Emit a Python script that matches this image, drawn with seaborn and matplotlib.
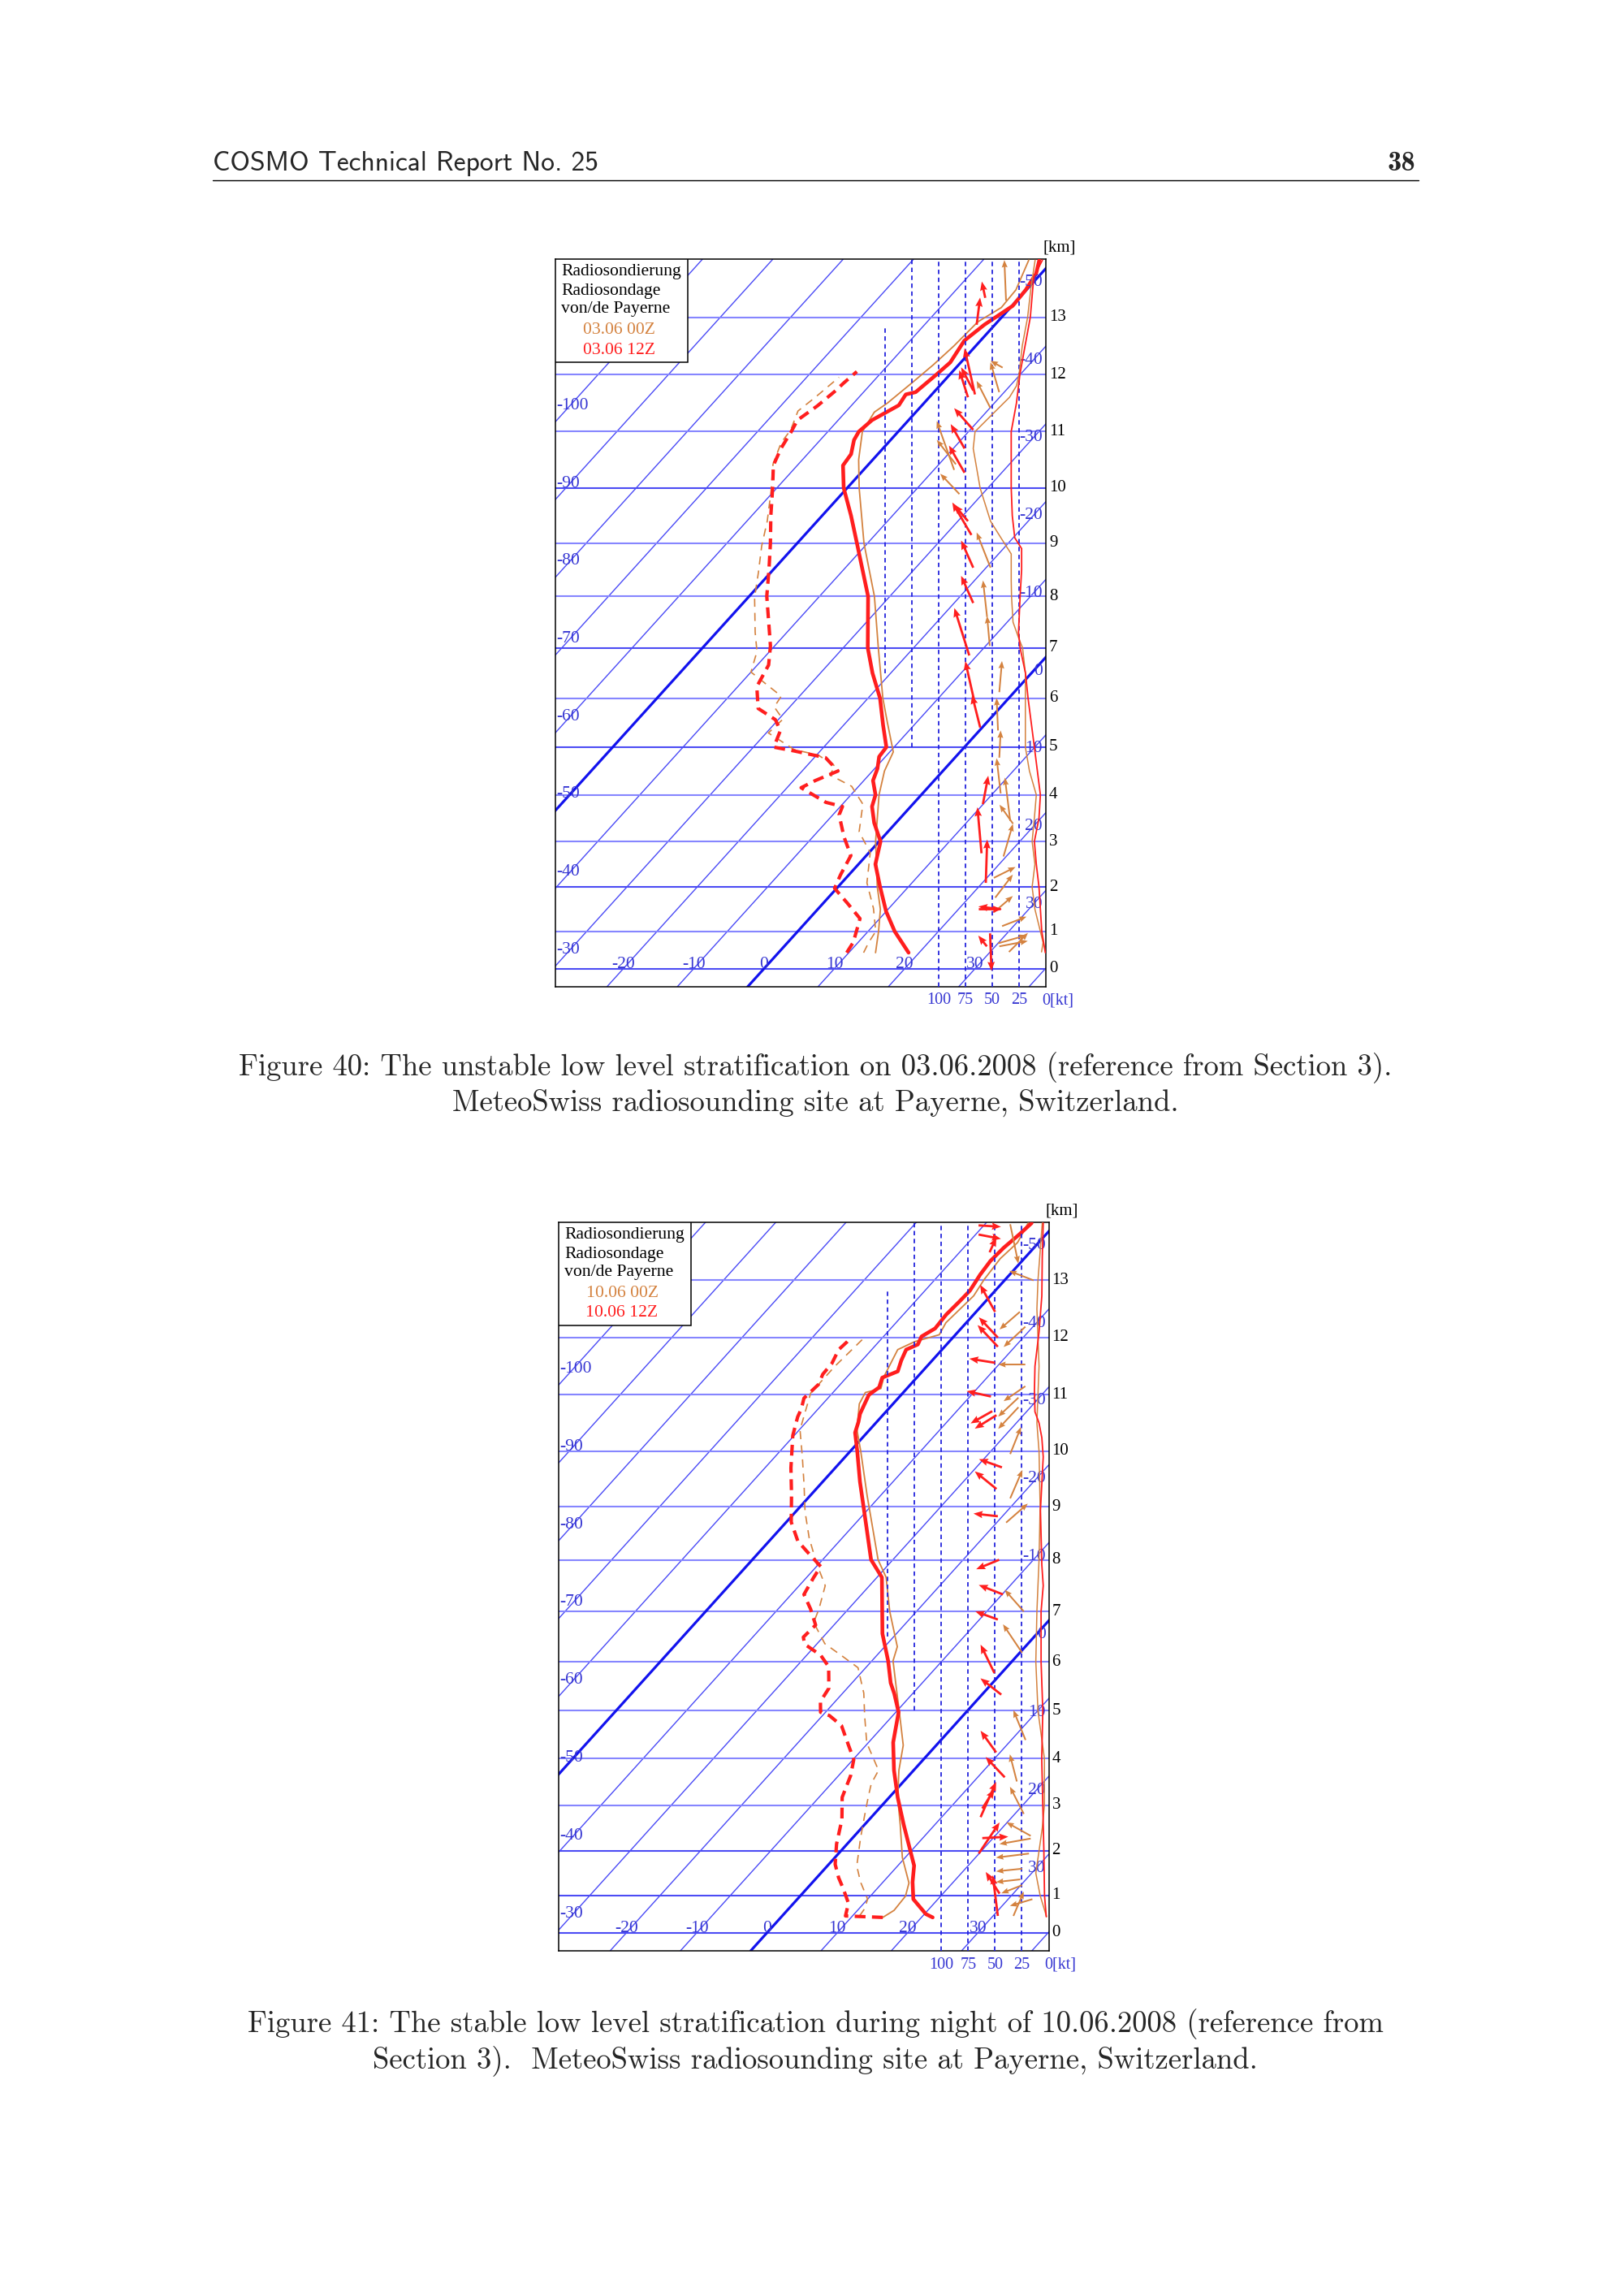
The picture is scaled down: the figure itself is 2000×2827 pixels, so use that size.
import numpy as np
import pandas as pd
import matplotlib
matplotlib.use("Agg")
import matplotlib.pyplot as plt
from matplotlib.patches import Rectangle
from matplotlib.lines import Line2D
import seaborn as sns

# ---------------------------------------------------------------- data
KM_LEVELS = [0, 1, 2, 3, 4, 5, 6, 7, 8, 9, 10, 11, 12, 13, 14]
KM_PRESSURE = [996.0, 898.8, 795.0, 701.1, 616.6, 540.5, 472.2, 411.1,
               356.5, 308.0, 264.4, 226.3, 193.3, 165.1, 141.0]
KM_LABELS = ["0", "1", "2", "3", "4", "5", "6", "7", "8", "9", "10", "11", "12", "13"]
P_BOTTOM, P_TOP = 1047.0, 140.7
T_AXIS_MIN, T_AXIS_MAX = -29.65, 40.07
SKEW = 46.62                      # degC per ln(p) unit

ISOTHERMS = list(range(-140, 60, 10))
THICK_ISOTHERMS = [-50, 0]
BOTTOM_T_LABELS = [-20, -10, 0, 10, 20, 30]
LEFT_T_LABELS = [-30, -40, -50, -60, -70, -80, -90, -100]
RIGHT_T_LABELS = [30, 20, 10, 0, -10, -20, -30, -40, -50]

WIND_KT_LINES = [100, 75, 50, 25]
WIND_KT_LABELS = ["100", "75", "50", "25"]
WIND_PARTIAL_KT = [150, 125]
WIND_PARTIAL_KM_LOW = [6.5, 5.0]
WIND_PARTIAL_KM_HIGH = [12.85, 14.0]

LEGEND_HEAD = ["Radiosondierung", "Radiosondage", "von/de Payerne"]
LEGEND_RUNS_1 = ["03.06 00Z", "03.06 12Z"]
LEGEND_RUNS_2 = ["10.06 00Z", "10.06 12Z"]

# ---- Figure 40 (03.06.2008) ----
F1_T12_KM = [0.43, 1.0, 1.45, 2.0, 2.5, 3.0, 3.4, 3.75, 4.0, 4.3, 4.55, 4.8, 5.0, 5.45, 6.0, 6.5, 7.0,
             8.0, 9.0, 9.5, 10.0, 10.4, 10.6, 10.85, 11.0, 11.2, 11.46, 11.65, 11.69, 12.0, 12.21,
             12.59, 12.87, 13.2, 13.48, 13.76, 14.0]
F1_T12_C = [18.5, 13.8, 10.0, 6.0, 2.4, 0.2, -3.1, -5.5, -6.5, -8.7, -9.6, -10.9, -11.1, -14.4, -18.3,
            -22.6, -26.5, -33.1, -41.5, -45.9, -50.5, -53.5, -53.8, -55.2, -55.6, -55.2, -53.3, -53.7,
            -52.6, -51.9, -51.5, -52.3, -51.5, -49.9, -50.1, -50.7, -52.0]
F1_T00_KM = [0.43, 1.0, 1.5, 2.0, 3.0, 4.0, 4.5, 4.9, 5.5, 6.0, 7.0, 8.0, 9.0, 10.0, 10.5, 11.0, 11.34,
             11.5, 11.86, 12.17, 12.5, 12.92, 13.17, 13.48, 14.0]
F1_T00_C = [13.8, 11.5, 8.9, 5.6, -0.5, -6.0, -8.3, -9.5, -14.1, -17.9, -25.0, -32.2, -40.5, -48.3,
            -52.0, -55.1, -55.9, -55.2, -54.3, -53.6, -53.1, -52.8, -51.3, -51.5, -53.5]
F1_TD12_KM = [0.43, 0.71, 1.29, 1.63, 1.97, 2.27, 2.69, 3.1, 3.57, 3.75, 3.84, 4.15, 4.3, 4.5, 4.78,
              4.92, 5.0, 5.34, 5.56, 5.79, 6.23, 6.66, 7.04, 8.0, 8.5, 9.0, 9.5, 10.0, 10.4, 10.7,
              11.0, 11.2, 11.45, 11.7, 11.85, 12.05]
F1_TD12_C = [9.7, 9.3, 7.2, 3.5, -0.3, -1.2, -2.2, -5.6, -9.1, -9.7, -12.6, -18.0, -16.9, -14.9, -18.4,
             -23.7, -27.1, -28.3, -30.4, -34.3, -37.3, -38.4, -40.6, -47.5, -50.6, -53.8, -57.3,
             -60.6, -63.4, -64.5, -65.2, -65.8, -64.8, -64.2, -64.0, -63.6]
F1_TD00_KM = [0.43, 0.71, 1.0, 1.52, 2.09, 2.75, 3.21, 3.8, 4.18, 4.42, 4.6, 4.83, 4.95, 5.29, 5.57,
              5.82, 6.04, 6.52, 6.93, 7.3, 7.98, 8.44, 8.95, 9.4, 9.94, 10.42, 10.8, 11.03, 11.36,
              11.6, 11.95]
F1_TD00_C = [12.1, 11.5, 11.1, 7.8, 3.6, 0.2, -4.1, -7.1, -11.0, -15.6, -15.9, -19.7, -23.9, -29.7,
             -29.4, -32.2, -32.6, -40.0, -41.8, -44.5, -49.1, -51.7, -54.7, -57.1, -60.4, -63.6,
             -65.2, -65.5, -66.9, -66.2, -65.4]
F1_SP12_KM = [0.43, 1.0, 1.5, 2.0, 2.5, 3.0, 3.5, 4.0, 5.0, 6.0, 6.5, 7.0, 7.3, 8.0, 8.5, 8.9, 9.1,
              9.5, 10.0, 11.0, 11.5, 12.0, 12.5, 13.0, 13.7, 14.0]
F1_SP12_KT = [0.5, 3.8, 5.1, 6.4, 8.9, 10.7, 6.4, 5.1, 10.7, 16.6, 19.0, 24.0, 25.5, 24.0, 22.6, 22.6,
              29.0, 31.3, 32.3, 32.3, 27.4, 24.2, 19.4, 14.5, 11.3, 3.2]
F1_SP00_KM = [0.45, 0.7, 1.0, 1.5, 2.0, 2.5, 3.0, 3.5, 4.0, 4.5, 5.0, 6.0, 6.5, 7.0, 7.2, 7.5, 8.0,
              8.3, 8.8, 9.05, 9.4, 10.0, 10.7, 11.0, 11.3, 11.6, 11.8, 12.0, 12.5, 13.0, 13.5, 14.0]
F1_SP00_KT = [4.0, 2.6, 5.1, 10.2, 12.8, 10.2, 12.8, 10.7, 8.9, 15.3, 19.1, 19.1, 19.1, 21.7, 25.5,
              30.6, 32.0, 32.3, 32.3, 40.3, 51.6, 61.3, 67.7, 66.0, 50.0, 33.9, 27.4, 25.0, 22.0,
              17.0, 14.0, 10.0]
F1_AR12_KM = [13.34, 12.87, 11.65, 11.72, 11.6, 11.03, 10.7, 10.27, 9.15, 9.4, 8.54, 7.87, 6.85, 5.9,
              5.4, 3.8, 2.74, 2.09, 1.5, 1.5, 0.95, 0.6]
F1_AR12_KT = [56.5, 64.5, 66.1, 67.7, 72.6, 67.7, 75.8, 75.8, 69.4, 72.6, 67.7, 67.7, 71.4, 66.3,
              61.2, 58.7, 60.0, 56.0, 62.5, 41.9, 52.0, 55.0]
F1_AR12_U = [-3.2, 3.2, -9.7, -11.3, -8.1, -17.8, -12.9, -14.5, -17.8, -12.9, -11.3, -11.3, -13.9,
             -8.8, -7.6, 5.0, -3.8, 1.3, 21.4, -21.0, 1.3, -8.0]
F1_AR12_V = [15.2, 25.3, 42.9, 21.5, 25.3, 20.2, 22.7, 25.3, 30.3, 15.2, 25.3, 25.3, 44.2, 39.0,
             30.3, 26.5, 42.9, 40.4, 0.0, 2.5, -35.0, 10.0]
F1_AR00_KM = [13.29, 12.12, 11.69, 11.41, 10.42, 10.32, 9.89, 8.54, 7.6, 7.04, 6.12, 5.34, 4.78, 4.03,
              3.44, 3.38, 2.67, 2.2, 1.76, 1.43, 1.12, 0.68, 0.6, 0.45]
F1_AR00_KT = [37.1, 40.3, 43.5, 51.6, 83.9, 85.5, 80.6, 51.6, 54.8, 52.3, 43.4, 44.6, 43.4, 42.1,
              33.2, 30.6, 39.5, 48.5, 47.2, 48.5, 40.8, 44.6, 43.4, 34.4]
F1_AR00_U = [-1.6, -11.3, -8.1, -12.9, -17.8, -16.2, -17.8, -12.9, -3.8, -2.5, 2.5, -1.3, 1.3, -3.8,
             -5.0, -12.6, 8.8, 20.2, 16.4, 17.7, 22.7, 26.5, 26.5, 17.7]
F1_AR00_V = [37.9, 6.3, 27.8, 25.3, 22.7, 45.5, 18.9, 32.8, 34.0, 27.8, 29.0, 30.3, 25.3, 32.8,
             40.4, 17.7, 30.3, 10.1, 21.5, 15.2, 8.8, 7.6, 5.0, 17.7]

# ---- Figure 41 (10.06.2008) ----
F2_T12_KM = [0.41, 0.5, 0.9, 1.3, 1.67, 1.97, 2.57, 3.17, 3.75, 4.34, 4.97, 5.35, 5.57, 6.02, 6.56,
             7.66, 8.0, 8.71, 9.45, 10.0, 10.33, 10.52, 10.66, 10.8, 11.0, 11.13, 11.3, 11.41, 11.6,
             11.79, 11.88, 12.02, 12.16, 12.4, 12.63, 12.82, 13.1, 13.34, 13.57, 13.8, 14.0]
F2_T12_C = [21.6, 20.2, 16.5, 14.2, 12.3, 10.1, 5.6, 1.2, -2.8, -6.5, -9.6, -12.6, -14.5, -17.7,
            -22.0, -29.3, -33.1, -38.7, -44.7, -49.0, -51.7, -52.6, -53.4, -53.9, -54.6, -54.1,
            -54.9, -53.5, -54.4, -55.1, -54.1, -54.6, -53.7, -53.9, -53.7, -53.6, -54.2, -54.5,
            -54.3, -53.8, -53.5]
F2_T00_KM = [0.41, 0.6, 0.98, 1.28, 1.85, 2.57, 3.17, 3.75, 4.28, 4.9, 5.46, 6.02, 6.3, 7.0, 7.66,
             8.0, 9.2, 10.0, 10.38, 10.84, 11.04, 11.11, 11.32, 11.79, 11.93, 12.05, 12.26, 12.73,
             13.01, 13.38, 13.66, 14.0]
F2_T00_C = [14.5, 15.2, 15.0, 13.8, 9.6, 5.1, 1.2, -2.1, -4.7, -9.0, -13.0, -17.0, -18.2, -23.8,
            -28.7, -32.1, -41.9, -48.5, -51.8, -54.8, -55.4, -53.7, -54.8, -56.3, -54.9, -52.3,
            -52.9, -52.4, -53.0, -53.4, -53.0, -54.0]
F2_TD12_KM = [0.41, 0.45, 0.79, 1.15, 1.4, 1.7, 2.15, 2.69, 3.17, 3.64, 3.98, 4.27, 4.69, 4.9, 4.97,
              5.19, 5.46, 5.9, 6.13, 6.35, 6.49, 6.73, 7.05, 7.33, 7.66, 7.87, 8.15, 8.35, 8.71,
              9.22, 9.7, 10.28, 10.61, 10.75, 10.94, 11.18, 11.36, 11.55, 11.79, 11.93, 12.0]
F2_TD12_C = [14.5, 9.0, 7.8, 5.2, 3.1, 0.9, -1.5, -3.9, -6.7, -8.3, -9.9, -12.4, -16.0, -19.0, -20.7,
             -22.1, -22.6, -25.4, -28.0, -31.7, -32.8, -32.6, -35.4, -38.2, -39.0, -39.4, -43.2,
             -45.9, -49.3, -52.8, -56.3, -60.2, -61.9, -62.4, -63.4, -63.1, -63.8, -63.9, -64.7,
             -64.5, -64.5]
F2_TD00_KM = [0.45, 0.64, 0.9, 1.3, 1.66, 2.27, 2.76, 3.17, 3.46, 3.75, 4.33, 4.9, 5.36, 5.88, 6.13,
              6.36, 6.78, 7.05, 7.5, 7.92, 8.41, 8.91, 9.4, 9.9, 10.38, 11.03, 11.5, 12.0]
F2_TD00_C = [11.0, 10.8, 10.0, 6.8, 4.2, 1.2, -1.1, -3.0, -4.3, -5.0, -10.2, -14.0, -17.0, -21.1,
             -25.1, -28.9, -33.2, -34.2, -36.3, -40.3, -44.7, -48.7, -52.3, -56.1, -59.9, -63.1,
             -63.1, -62.6]
F2_SP12_KM = [0.43, 1.0, 2.0, 3.0, 4.0, 5.0, 6.0, 7.0, 7.5, 7.9, 8.93, 9.42, 9.9, 10.24, 10.5, 10.7,
              11.08, 11.5, 12.1, 12.73, 13.4, 14.0]
F2_SP12_KT = [2.3, 3.9, 4.5, 5.5, 6.5, 5.5, 7.1, 7.1, 5.1, 6.4, 7.7, 6.4, 5.1, 6.4, 9.0, 12.8, 13.3,
              12.8, 9.0, 6.4, 6.0, 5.1]
F2_SP00_KM = [0.43, 1.0, 1.5, 2.0, 2.5, 3.0, 4.0, 5.0, 6.0, 7.0, 8.0, 9.0, 10.0, 10.5, 11.0, 11.5,
              12.0, 12.5, 13.0, 13.5, 14.0]
F2_SP00_KT = [2.0, 8.0, 12.0, 9.0, 6.0, 4.0, 4.0, 10.0, 12.0, 11.0, 9.0, 8.0, 9.0, 11.0, 10.0, 9.0,
              10.0, 11.0, 10.0, 8.0, 6.0]
F2_AR12_KM = [13.96, 13.8, 13.49, 12.45, 12.0, 11.84, 11.56, 10.97, 10.71, 10.64, 9.71, 9.32, 8.82,
              8.0, 7.33, 6.84, 5.77, 5.33, 4.13, 3.6, 2.74, 2.93, 1.94, 2.28, 1.04, 0.45]
F2_AR12_KT = [65.4, 65.4, 55.1, 50.0, 47.4, 47.4, 50.0, 53.8, 52.6, 48.7, 43.6, 48.7, 47.4, 46.2,
              42.6, 47.4, 50.6, 44.2, 49.0, 41.0, 63.5, 61.9, 65.2, 61.9, 45.8, 47.4]
F2_AR12_U = [20.9, 20.9, 6.3, -13.9, -17.7, -18.9, -24.0, -22.7, -20.2, -20.2, -21.4, -20.2, -22.7,
             -21.4, -22.6, -21.0, -12.9, -19.4, -14.5, -17.8, 14.5, 11.3, 19.4, 24.2, -12.9, -4.8]
F2_AR12_V = [-1.3, -4.0, 13.9, 25.2, 18.9, 20.2, 3.8, 5.0, -11.4, -12.6, 7.6, 16.4, 2.5, -8.8, 8.8,
             7.6, 26.5, 15.2, 20.2, 18.9, 32.8, 17.7, 29.0, 1.3, 20.2, 37.9]
F2_AR00_KM = [13.98, 13.0, 12.45, 12.19, 11.53, 11.15, 10.95, 10.78, 9.95, 9.15, 8.7, 7.0, 6.18, 4.39,
              3.51, 2.81, 2.33, 2.27, 1.94, 1.6, 1.36, 1.23, 0.9, 0.45]
F2_AR00_KT = [35.9, 14.1, 26.9, 21.8, 21.8, 21.8, 28.2, 28.2, 35.9, 35.9, 39.7, 23.2, 24.8, 21.6,
              29.7, 23.2, 16.8, 16.8, 18.4, 24.8, 26.5, 24.8, 15.2, 32.9]
F2_AR00_U = [7.6, -22.7, -18.9, -20.2, -25.2, -20.2, -18.9, -18.9, 10.1, 11.4, 20.2, -17.8, -17.8,
             -11.3, -6.5, -12.9, -22.6, -29.1, -30.7, -24.2, -22.6, -19.4, -21.0, 9.7]
F2_AR00_V = [-36.6, 8.8, -16.4, -18.9, 0.0, -13.9, -17.7, -20.2, 25.2, 26.5, 17.7, 20.2, 26.5, 27.8,
             25.3, 25.3, 12.6, -5.1, -3.8, -2.5, -2.5, -7.6, -6.3, 22.7]

CAPTION_1 = ["Figure 40: The unstable low level stratification on 03.06.2008 (reference from Section 3).",
             "MeteoSwiss radiosounding site at Payerne, Switzerland."]
CAPTION_2 = ["Figure 41: The stable low level stratification during night of 10.06.2008 (reference from",
             "Section 3).  MeteoSwiss radiosounding site at Payerne, Switzerland."]
HEADER_LEFT = "COSMO Technical Report No. 25"
HEADER_RIGHT = "38"

# ---------------------------------------------------------------- style / layout
W, H, DPI = 2000, 2827, 100
PT = 72.0 / DPI               # points per pixel
PX_PER_KT = 1.321

BLUE_LINE = "#4a4af6"
BLUE_THICK = "#1212ee"
BLUE_KM = "#8686ff"
BLUE_KM_DARK = "#4c4cf4"
BLUE_DASH = "#2424dc"
BLUE_TEXT = "#3636d2"
ORANGE = "#d4823f"
RED = "#ff1e1e"
SERIF = ["Liberation Serif", "DejaVu Serif"]

sns.set_theme(style="white")
plt.rcParams["font.family"] = SERIF
plt.rcParams["axes.formatter.use_mathtext"] = True

fig = plt.figure(figsize=(W / DPI, H / DPI), dpi=DPI)
fig.patch.set_facecolor("white")


def km_to_p(km):
    return np.exp(np.interp(np.asarray(km, float), KM_LEVELS, np.log(KM_PRESSURE)))


def skew_x(t, p):
    return np.asarray(t, float) + SKEW * np.log(KM_PRESSURE[0] / np.asarray(p, float))


def profile(ax, km, vals, color, lw, ls="-", skewed=True, z=4):
    p = km_to_p(km)
    x = skew_x(vals, p) if skewed else np.asarray(vals, float)
    df = pd.DataFrame({"x": x, "p": p})
    sns.lineplot(data=df, x="x", y="p", ax=ax, sort=False, estimator=None,
                 color=color, linewidth=lw, linestyle=ls, zorder=z)


def arrows(axw, km, kt, u, v, color, width, hw, hl):
    axw.quiver(np.asarray(kt, float), km_to_p(km), np.asarray(u, float), np.asarray(v, float),
               angles="uv", scale_units="inches", scale=DPI / PX_PER_KT, units="dots",
               width=width, headwidth=hw, headlength=hl, headaxislength=hl * 0.9,
               color=color, zorder=6)


def draw_chart(rect, runs, T12, T00, TD12, TD00, SP12, SP00, AR12, AR00, dark_km):
    left, top, right, bottom = rect
    pos = [left / W, 1 - bottom / H, (right - left) / W, (bottom - top) / H]
    ax = fig.add_axes(pos)
    ax.set_yscale("log")
    ax.set_facecolor("white")

    pb = np.array([P_BOTTOM, P_TOP])
    for t in ISOTHERMS:
        thick = t in THICK_ISOTHERMS
        ax.plot(skew_x(t, pb), pb, color=BLUE_THICK if thick else BLUE_LINE,
                lw=2.3 if thick else 1.0, zorder=2 if thick else 1)
    for k, p in zip(KM_LEVELS[:-1], KM_PRESSURE[:-1]):
        ax.plot([T_AXIS_MIN, T_AXIS_MAX], [p, p], color=BLUE_KM_DARK if k in dark_km else BLUE_KM,
                lw=1.5, zorder=1)

    profile(ax, TD00[0], TD00[1], ORANGE, 1.2, (0, (6, 4.5)))
    profile(ax, T00[0], T00[1], ORANGE, 1.3)
    profile(ax, TD12[0], TD12[1], RED, 3.0, (0, (3.2, 1.9)))
    profile(ax, T12[0], T12[1], RED, 3.3)

    for t in BOTTOM_T_LABELS:
        ax.annotate(str(t), (t, KM_PRESSURE[0]), xytext=(0, 5 * PT), textcoords="offset points",
                    ha="center", va="center", color=BLUE_TEXT, fontsize=15.5, zorder=5)
    for t in LEFT_T_LABELS:
        p = KM_PRESSURE[0] * np.exp(-(T_AXIS_MIN - t) / SKEW)
        ax.annotate(str(t), (T_AXIS_MIN, p), xytext=(1 * PT, 20 * PT), textcoords="offset points",
                    ha="left", va="center", color=BLUE_TEXT, fontsize=15.5, zorder=5)
    for t in RIGHT_T_LABELS:
        p = KM_PRESSURE[0] * np.exp(-(T_AXIS_MAX - t) / SKEW)
        ax.annotate(str(t), (T_AXIS_MAX, p), xytext=(-4 * PT, -17 * PT), textcoords="offset points",
                    ha="right", va="center", color=BLUE_TEXT, fontsize=15.5, zorder=5,
                    annotation_clip=False)
    for lab, p in zip(KM_LABELS, KM_PRESSURE):
        ax.annotate(lab, (1, p), xycoords=("axes fraction", "data"), xytext=(4 * PT, 0),
                    textcoords="offset points", ha="left", va="center", color="black",
                    fontsize=15, annotation_clip=False)
    ax.annotate("[km]", (1, 1), xycoords="axes fraction", xytext=(-4 * PT, 14 * PT),
                textcoords="offset points", ha="left", va="center", color="black", fontsize=15)

    ax.set_xlim(T_AXIS_MIN, T_AXIS_MAX)
    ax.set_ylim(P_BOTTOM, P_TOP)
    ax.set_xlabel("")
    ax.set_ylabel("")
    ax.tick_params(which="both", left=False, bottom=False, labelleft=False, labelbottom=False)
    ax.minorticks_off()
    for s in ax.spines.values():
        s.set_visible(True)
        s.set_color("black")
        s.set_linewidth(1.1)

    # ---- wind panel (same frame, knots axis)
    axw = fig.add_axes(pos)
    axw.set_facecolor("none")
    axw.set_yscale("log")
    kt_max = (right - left) / PX_PER_KT
    for kt in WIND_KT_LINES:
        axw.plot([kt, kt], [P_BOTTOM, P_TOP], color=BLUE_DASH, lw=1.3, ls=(0, (3.0, 2.4)), zorder=1)
    for kt, k0, k1 in zip(WIND_PARTIAL_KT, WIND_PARTIAL_KM_LOW, WIND_PARTIAL_KM_HIGH):
        axw.plot([kt, kt], km_to_p([k0, k1]), color=BLUE_DASH, lw=1.3, ls=(0, (3.0, 2.4)), zorder=1)

    profile(axw, SP00[0], SP00[1], ORANGE, 1.1, skewed=False)
    profile(axw, SP12[0], SP12[1], RED, 1.3, skewed=False)
    arrows(axw, *AR00, ORANGE, 2.0, 3.6, 4.6)
    arrows(axw, *AR12, RED, 2.8, 3.2, 4.0)

    for kt, lab in zip(WIND_KT_LINES, WIND_KT_LABELS):
        axw.annotate(lab, (kt, 0), xycoords=("data", "axes fraction"), xytext=(0, -17 * PT),
                     textcoords="offset points", ha="center", va="center", color=BLUE_TEXT,
                     fontsize=14.5, annotation_clip=False)
    axw.annotate("0[kt]", (0, 0), xycoords=("data", "axes fraction"), xytext=(-5 * PT, -17 * PT),
                 textcoords="offset points", ha="left", va="center", color=BLUE_TEXT,
                 fontsize=14.5, annotation_clip=False)

    fw, fh = right - left, bottom - top
    axw.add_patch(Rectangle((0, 1 - 127 / fh), 163 / fw, 127 / fh, transform=axw.transAxes,
                            facecolor="white", edgecolor="black", lw=1.1, zorder=8))
    offs = [15.7, 39.0, 61.5, 87.5, 111.7]
    for txt, d in zip(LEGEND_HEAD, offs[:3]):
        axw.text(7 / fw, 1 - d / fh, txt, transform=axw.transAxes, ha="left", va="center",
                 color="black", fontsize=15.6, zorder=9)
    for txt, d, c in zip(runs, offs[3:], [ORANGE, RED]):
        axw.text(78 / fw, 1 - d / fh, txt, transform=axw.transAxes, ha="center", va="center",
                 color=c, fontsize=15.6, zorder=9)

    axw.set_xlim(kt_max, 0)
    axw.set_ylim(P_BOTTOM, P_TOP)
    axw.axis("off")


draw_chart((684, 319.3, 1288, 1215), LEGEND_RUNS_1,
           (F1_T12_KM, F1_T12_C), (F1_T00_KM, F1_T00_C),
           (F1_TD12_KM, F1_TD12_C), (F1_TD00_KM, F1_TD00_C),
           (F1_SP12_KM, F1_SP12_KT), (F1_SP00_KM, F1_SP00_KT),
           (F1_AR12_KM, F1_AR12_KT, F1_AR12_U, F1_AR12_V),
           (F1_AR00_KM, F1_AR00_KT, F1_AR00_U, F1_AR00_V), dark_km=[0, 2, 5, 7, 10])
draw_chart((688, 1505, 1291.5, 2402), LEGEND_RUNS_2,
           (F2_T12_KM, F2_T12_C), (F2_T00_KM, F2_T00_C),
           (F2_TD12_KM, F2_TD12_C), (F2_TD00_KM, F2_TD00_C),
           (F2_SP12_KM, F2_SP12_KT), (F2_SP00_KM, F2_SP00_KT),
           (F2_AR12_KM, F2_AR12_KT, F2_AR12_U, F2_AR12_V),
           (F2_AR00_KM, F2_AR00_KT, F2_AR00_U, F2_AR00_V), dark_km=[0, 1, 2])

# ---------------------------------------------------------------- page text
fig.text(262 / W, 1 - 210 / H, HEADER_LEFT, family="cmss10", fontsize=24.2, ha="left", va="baseline")
fig.text(1743 / W, 1 - 210 / H, HEADER_RIGHT, family="cmb10", fontsize=25, ha="right", va="baseline")
fig.add_artist(Line2D([262 / W, 1747 / W], [1 - 222 / H, 1 - 222 / H], color="black", lw=1.0))

for lines, y0 in ((CAPTION_1, 1324), (CAPTION_2, 2502)):
    for i, line in enumerate(lines):
        fig.text(1004 / W, 1 - (y0 + 44 * i) / H, line, family="cmr10", fontsize=26.4,
                 ha="center", va="baseline")

fig.savefig("out.png", dpi=DPI, facecolor="white")
